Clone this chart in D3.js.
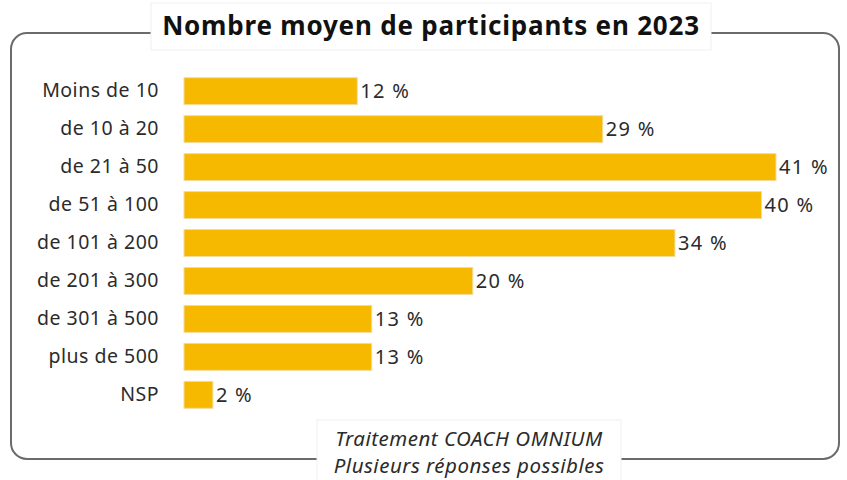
<!DOCTYPE html>
<html>
<head>
<meta charset="utf-8">
<script src="https://cdn.jsdelivr.net/npm/d3@7/dist/d3.min.js"></script>
<style>
  body { margin: 0; background: #fff; }
  svg text { font-family: "Noto Sans", "Open Sans", sans-serif; fill: #2b2b2b; }
</style>
</head>
<body>
<div id="chart"></div>
<script>
// data
const categories = ["Moins de 10", "de 10 à 20", "de 21 à 50", "de 51 à 100", "de 101 à 200",
                    "de 201 à 300", "de 301 à 500", "plus de 500", "NSP"];
const values = [12, 29, 41, 40, 34, 20, 13, 13, 2];
const title = "Nombre moyen de participants en 2023";
const notes = ["Traitement COACH OMNIUM", "Plusieurs réponses possibles"];

const width = 847, height = 480;
const svg = d3.select("#chart").append("svg")
  .attr("width", width).attr("height", height);

// frame
svg.append("rect")
  .attr("x", 11).attr("y", 33).attr("width", 828).attr("height", 426)
  .attr("rx", 16).attr("ry", 16)
  .attr("fill", "none").attr("stroke", "#6b6b6b").attr("stroke-width", 2);

// title box
svg.append("rect")
  .attr("x", 151).attr("y", 3).attr("width", 560).attr("height", 47)
  .attr("fill", "#fff").attr("stroke", "#f0f0f0");
svg.append("text")
  .attr("x", 431).attr("y", 35)
  .attr("text-anchor", "middle")
  .attr("font-size", 26).attr("font-weight", 700)
  .attr("letter-spacing", 0.8)
  .style("fill", "#111")
  .text(title);

// scales
const x = d3.scaleLinear().domain([0, 41]).range([184, 776]);
const y = d3.scaleBand().domain(categories).range([72, 414]).paddingInner(0.29).paddingOuter(0.15);

const g = svg.append("g");
g.selectAll("rect.bar").data(categories).join("rect")
  .attr("class", "bar")
  .attr("x", x(0))
  .attr("y", d => y(d))
  .attr("width", (d, i) => x(values[i]) - x(0))
  .attr("height", y.bandwidth())
  .attr("fill", "#f6b900")
  .attr("stroke", "#f3dc9a").attr("stroke-width", 1);

g.selectAll("text.val").data(categories).join("text")
  .attr("class", "val")
  .attr("x", (d, i) => x(values[i]) + 3)
  .attr("y", d => y(d) + y.bandwidth() / 2)
  .attr("dy", "0.36em")
  .attr("font-size", 20)
  .attr("letter-spacing", 1.3)
  .text((d, i) => values[i] + " %");

// category axis labels
const axis = d3.axisLeft(y).tickSize(0).tickPadding(25);
const ag = svg.append("g").attr("transform", `translate(${x(0)},0)`).call(axis);
ag.select(".domain").remove();
ag.selectAll("text")
  .attr("font-size", 19.5)
  .attr("letter-spacing", 0.5)
  .style("font-family", '"Noto Sans", "Open Sans", sans-serif')
  .style("fill", "#2b2b2b");

// notes box
svg.append("rect")
  .attr("x", 317).attr("y", 420).attr("width", 304).attr("height", 62)
  .attr("fill", "#fff").attr("stroke", "#f0f0f0");
svg.selectAll("text.note").data(notes).join("text")
  .attr("class", "note")
  .attr("x", 469)
  .attr("y", (d, i) => 446 + i * 27)
  .attr("text-anchor", "middle")
  .attr("font-size", 20.5).attr("font-style", "italic")
  .attr("letter-spacing", 0.5)
  .text(d => d);
</script>
</body>
</html>
